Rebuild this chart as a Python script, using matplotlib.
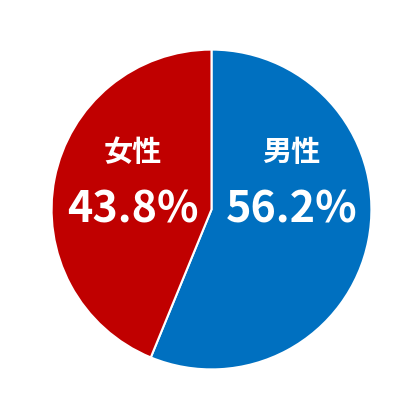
import matplotlib.pyplot as plt

# Daten
labels = ["男性", "女性"]
values = [56.2, 43.8]
colors = ["#0070C0", "#C00000"]

plt.rcParams['font.family'] = ['Noto Sans CJK JP', 'DejaVu Sans']

fig = plt.figure(figsize=(4.2, 4.2), dpi=100)
ax = fig.add_axes([50 / 420, 49 / 420, 323 / 420, 323 / 420])

ax.pie(values, colors=colors, startangle=90, counterclock=False, radius=1,
       wedgeprops=dict(edgecolor="white", linewidth=1.5))
ax.set_xlim(-1.01, 1.01)
ax.set_ylim(-1.01, 1.01)
ax.set_aspect("equal")
ax.axis("off")

# Beschriftungen
pos = {"男性": (0.50, 0.36, 0.50, 0.0), "女性": (-0.49, 0.36, -0.49, 0.0)}
for lab, val in zip(labels, values):
    x1, y1, x2, y2 = pos[lab]
    ax.text(x1, y1, lab, ha="center", va="center", color="white",
            fontsize=21, fontweight="bold")
    ax.text(x2, y2, f"{val}%", ha="center", va="center", color="white",
            fontsize=31, fontweight="bold")

fig.savefig("out.png", dpi=100)
